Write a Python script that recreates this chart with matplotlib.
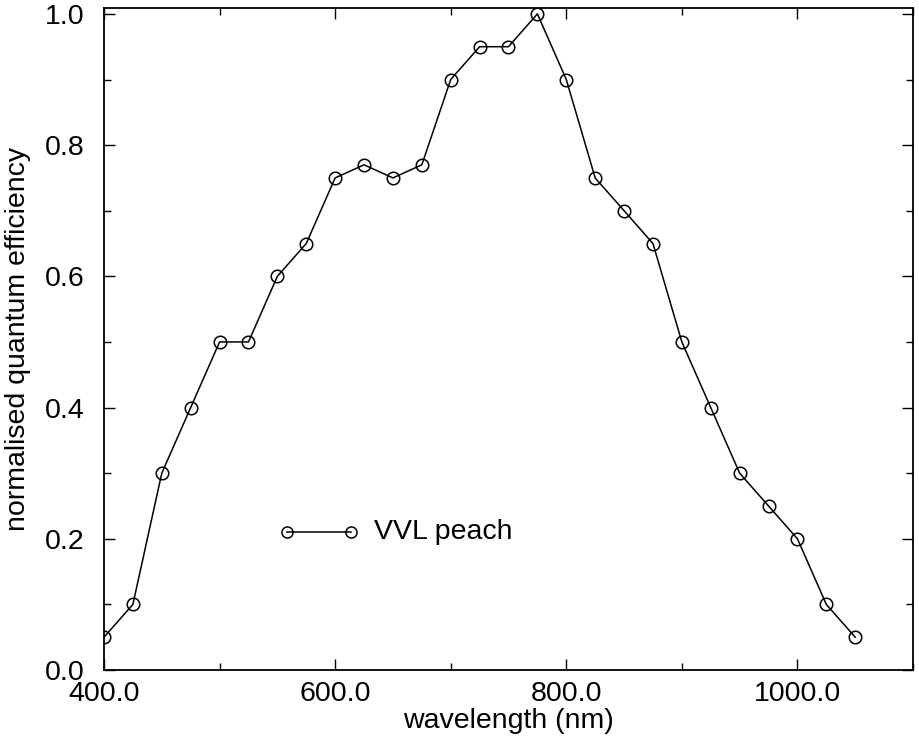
import matplotlib
matplotlib.use("Agg")
import matplotlib.pyplot as plt
from matplotlib.ticker import MultipleLocator, FormatStrFormatter

wavelength = [400, 425, 450, 475, 500, 525, 550, 575, 600, 625, 650, 675, 700, 725,
              750, 775, 800, 825, 850, 875, 900, 925, 950, 975, 1000, 1025, 1050]
efficiency = [0.05, 0.10, 0.30, 0.40, 0.50, 0.50, 0.60, 0.65, 0.75, 0.77, 0.75, 0.77, 0.90, 0.95,
              0.95, 1.00, 0.90, 0.75, 0.70, 0.65, 0.50, 0.40, 0.30, 0.25, 0.20, 0.10, 0.05]
legend_x = [558, 614]
legend_y = [0.21, 0.21]

plt.rcParams['font.family'] = ['Liberation Sans', 'DejaVu Sans']
FS = 20.5
fig = plt.figure(figsize=(9.19, 7.53), dpi=100)
ax = fig.add_axes([104/919, 1-670/753, (913-104)/919, (670-8)/753])

ax.plot(wavelength, efficiency, color='black', lw=1.1, marker='o', ms=9,
        mfc='none', mec='black', mew=1.1)
ax.plot(legend_x, legend_y, color='black', lw=1.1, marker='o', ms=8,
        mfc='none', mec='black', mew=1.1, clip_on=False)
ax.text(634, 0.21, 'VVL peach', fontsize=FS, va='center', ha='left')

ax.set_xlim(400, 1100)
ax.set_ylim(0.0, 1.009)
ax.xaxis.set_major_locator(MultipleLocator(200))
ax.xaxis.set_minor_locator(MultipleLocator(100))
ax.yaxis.set_major_locator(MultipleLocator(0.2))
ax.yaxis.set_minor_locator(MultipleLocator(0.1))
ax.xaxis.set_major_formatter(FormatStrFormatter('%.1f'))
ax.yaxis.set_major_formatter(FormatStrFormatter('%.1f'))
ax.tick_params(which='both', direction='in', top=True, right=True, labelsize=FS, width=1)
ax.tick_params(which='major', length=8)
ax.tick_params(which='minor', length=5)
ax.tick_params(axis='x', which='major', pad=8)
ax.tick_params(axis='y', which='major', pad=14)
for s in ax.spines.values():
    s.set_linewidth(1.3)

ax.set_xlabel('wavelength (nm)', fontsize=FS, labelpad=1)
ax.set_ylabel('normalised quantum efficiency', fontsize=FS, labelpad=10)

fig.savefig('out.png', dpi=100)
